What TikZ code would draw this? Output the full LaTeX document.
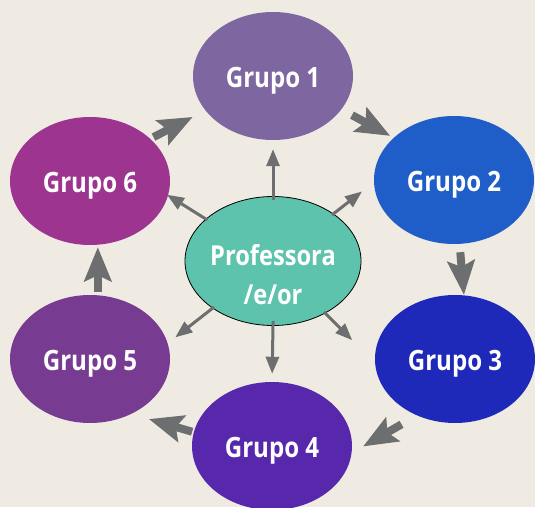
\documentclass[tikz,border=0pt]{standalone}
\usepackage{fontspec}
\newfontfamily\gfont{Open Sans}[FakeStretch=0.86]
\usetikzlibrary{shapes.geometric,arrows.meta,calc}
\definecolor{bg}{HTML}{EFEBE2}
\definecolor{arrgray}{HTML}{6D6E70}
\definecolor{cg1}{HTML}{7E66A0}
\definecolor{cg2}{HTML}{1F5DC8}
\definecolor{cg3}{HTML}{1E28B9}
\definecolor{cg4}{HTML}{5828AC}
\definecolor{cg5}{HTML}{773C92}
\definecolor{cg6}{HTML}{9D3490}
\definecolor{ccenter}{HTML}{5DC3AD}
\tikzset{
  grp/.style={ellipse, draw=none, inner sep=0pt, minimum width=160pt, minimum height=128pt,
    text=white, text height=23.4pt, text depth=0pt,
    font=\gfont\bfseries\fontsize{28}{34}\selectfont},
  ctr/.style={ellipse, draw=black, line width=0.8pt, fill=ccenter, inner sep=0pt,
    minimum width=176pt, minimum height=129pt},
  ctext/.style={text=white, align=center, inner sep=0pt,
    font=\gfont\bfseries\fontsize{27.5}{39}\selectfont},
  bigarr/.style={draw=arrgray, line width=8pt, -{Stealth[length=34pt,width=27pt,inset=6pt]}},
  thinarr/.style={draw=arrgray, line width=3pt, -{Triangle[length=17pt,width=13pt]}},
}
\begin{document}
\begin{tikzpicture}[x=1pt,y=1pt]
\useasboundingbox (0,0) rectangle (535,507);
\clip (0,0) rectangle (535,507);
\fill[bg] (0,0) rectangle (535,507);
% group nodes
\node[grp, fill=cg1] (g1) at (273,431) {Grupo 1};
\node[grp, fill=cg2] (g2) at (454,327) {Grupo 2};
\node[grp, fill=cg3] (g3) at (455,148) {Grupo 3};
\node[grp, fill=cg4] (g4) at (272,61) {Grupo 4};
\node[grp, fill=cg5] (g5) at (90,148) {Grupo 5};
\node[grp, fill=cg6] (g6) at (90,326) {Grupo 6};
% centre
\node[ctr] (c) at (273,246) {};
\node[ctext] (ct) at ([yshift=-14pt]c.center) {Professora\\/e/or};
% free ends of the centre arrows
\coordinate (e1) at ($(c.center)+(38:113pt)$);
\coordinate (e2) at ($(c.center)+(148:125pt)$);
\coordinate (e3) at ($(c.center)+(218:124pt)$);
\coordinate (e4) at ($(c.center)+(315:112pt)$);
% thin arrows from the centre
\draw[thinarr, shorten <=-4pt, shorten >=9pt] (c.90) -- (g1.270);
\draw[thinarr, shorten <=-5pt, shorten >=8pt] (c.270) -- (g4.90);
\draw[thinarr, shorten <=-2pt] (c.38) -- (e1);
\draw[thinarr, shorten <=-2pt] (c.148) -- (e2);
\draw[thinarr, shorten <=-2pt] (c.218) -- (e3);
\draw[thinarr, shorten <=-2pt] (c.315) -- (e4);
% cycle arrows
\draw[bigarr, shorten <=3.5pt, shorten >=14.2pt] (g6.35.3) -- (g1.207.3);
\draw[bigarr, shorten <=12pt, shorten >=3.9pt] (g1.334.3) -- (g2.145.9);
\draw[bigarr, shorten <=8.2pt, shorten >=0.3pt] (g2.275.9) -- (g3.82.9);
\draw[bigarr, shorten <=17.7pt, shorten >=13.1pt] (g3.236.3) -- (g4.355.4);
\draw[bigarr, shorten <=1.6pt, shorten >=18.2pt] (g4.170.95) -- (g5.307.5);
\draw[bigarr, shorten <=3.25pt, shorten >=2.3pt] (g5.83.8) -- (g6.277.2);
\end{tikzpicture}
\end{document}
